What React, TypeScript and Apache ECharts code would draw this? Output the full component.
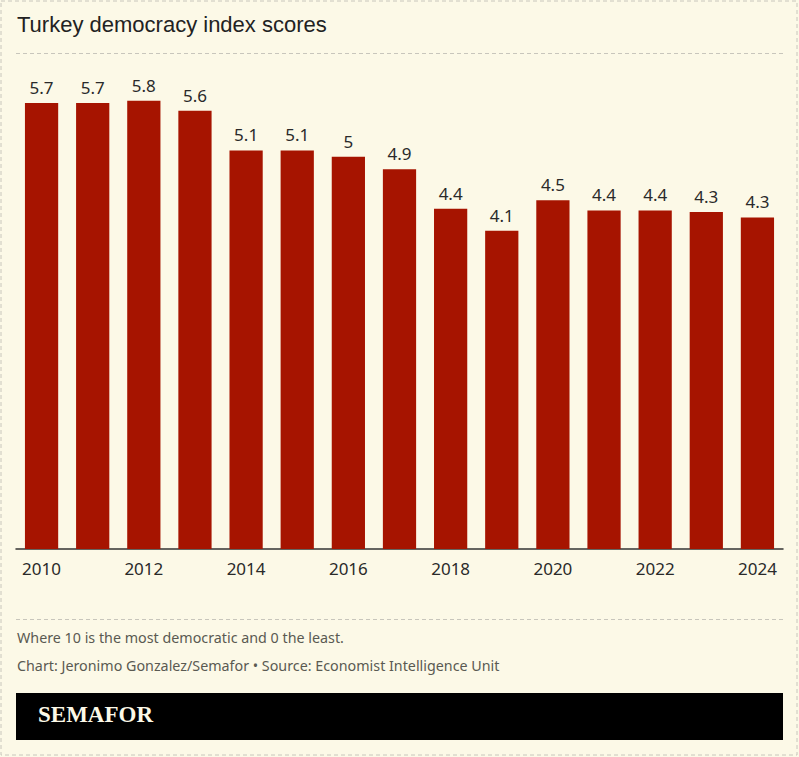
import React, { useEffect, useRef } from "react";
import * as echarts from "echarts";

const years = ["2010", "2011", "2012", "2013", "2014", "2015", "2016", "2017", "2018", "2019", "2020", "2021", "2022", "2023", "2024"];
const scores = [5.73, 5.73, 5.76, 5.63, 5.12, 5.12, 5.04, 4.88, 4.37, 4.09, 4.48, 4.35, 4.35, 4.33, 4.26];

const titleText = "Turkey democracy index scores";
const noteText = "Where 10 is the most democratic and 0 the least.";
const sourceText = "Chart: Jeronimo Gonzalez/Semafor • Source: Economist Intelligence Unit";
const brandText = "SEMAFOR";

export default function App() {
  const ref = useRef<HTMLDivElement>(null);
  useEffect(() => {
    document.body.style.margin = "0";
    const chart = echarts.init(ref.current!, null, { renderer: "svg" });
    chart.setOption({
      animation: false,
      backgroundColor: "#fcf9e7",
      grid: { left: 16, right: 16, top: 82, bottom: 208 },
      xAxis: {
        type: "category",
        data: years,
        axisLine: { lineStyle: { color: "#333", width: 1.5 } },
        axisTick: { show: false },
        axisLabel: {
          interval: 1,
          margin: 11,
          fontSize: 17,
          color: "#2a2a2a",
          fontFamily: "Noto Sans",
        },
      },
      yAxis: { type: "value", min: 0, max: 6, show: false, splitLine: { show: false } },
      series: [
        {
          type: "bar",
          data: scores,
          barCategoryGap: "35%",
          itemStyle: { color: "#a61400" },
          label: {
            show: true,
            position: "top",
            distance: 7,
            fontSize: 17,
            color: "#2a2a2a",
            fontFamily: "Noto Sans",
            formatter: (p: any) => String(Math.round(p.value * 10 + 1e-9) / 10),
          },
        },
      ],
      graphic: [
        {
          type: "rect",
          shape: { x: 1, y: 1, width: 796, height: 754 },
          style: { fill: "none", stroke: "#c8c6bc", lineWidth: 1, lineDash: [4, 3] },
        },
        {
          type: "text",
          x: 17,
          y: 13,
          style: { text: titleText, font: "22px 'Liberation Sans'", fill: "#222" },
        },
        {
          type: "line",
          shape: { x1: 16, y1: 53.5, x2: 783, y2: 53.5 },
          style: { stroke: "#c8c6bc", lineWidth: 1, lineDash: [4, 3] },
        },
        {
          type: "line",
          shape: { x1: 16, y1: 619.5, x2: 783, y2: 619.5 },
          style: { stroke: "#c8c6bc", lineWidth: 1, lineDash: [4, 3] },
        },
        {
          type: "text",
          x: 17,
          y: 630,
          style: { text: noteText, font: "14.3px 'Noto Sans'", fill: "#5a5a52" },
        },
        {
          type: "text",
          x: 17,
          y: 658,
          style: { text: sourceText, font: "14.3px 'Noto Sans'", fill: "#5a5a52" },
        },
        {
          type: "rect",
          shape: { x: 16, y: 693, width: 767, height: 47 },
          style: { fill: "#000" },
        },
        {
          type: "text",
          x: 38,
          y: 703,
          style: { text: brandText, font: "bold 23px 'Liberation Serif'", fill: "#fcf9e7" },
        },
      ],
    });
    return () => chart.dispose();
  }, []);
  return <div ref={ref} style={{ width: 799, height: 757 }} />;
}
